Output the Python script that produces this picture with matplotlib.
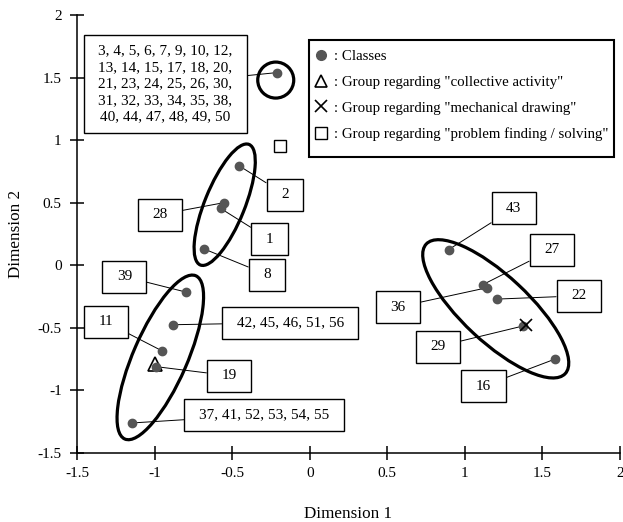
import matplotlib
matplotlib.use('Agg')
import matplotlib.pyplot as plt
from matplotlib.patches import Ellipse, Rectangle
from matplotlib.transforms import ScaledTranslation
from matplotlib.path import Path
from matplotlib.lines import Line2D

plt.rcParams['font.family'] = ['Liberation Serif', 'DejaVu Serif']
plt.rcParams['axes.unicode_minus'] = False

# classes (dots)
class_labels = [
    "3, 4, 5, 6, 7, 9, 10, 12,\n13, 14, 15, 17, 18, 20,\n21, 23, 24, 25, 26, 30,\n"
    "31, 32, 33, 34, 35, 38,\n40, 44, 47, 48, 49, 50",
    "2", "28", "1", "8", "39", "42, 45, 46, 51, 56", "11", "19",
    "37, 41, 52, 53, 54, 55", "43", "27", "36", "22", "29", "16",
]
class_x = [-0.21, -0.455, -0.555, -0.575, -0.68, -0.795, -0.88, -0.95, -0.99,
           -1.145, 0.895, 1.115, 1.14, 1.21, 1.375, 1.58]
class_y = [1.54, 0.795, 0.50, 0.455, 0.13, -0.215, -0.475, -0.685, -0.81,
           -1.26, 0.125, -0.155, -0.18, -0.27, -0.485, -0.75]

# groups
collective_xy = (-1.0, -0.79)
mechanical_xy = (1.395, -0.475)
problem_xy = (-0.19, 0.955)

# where the label boxes sit (data coords)
label_pos = [(-0.93, 1.45), (-0.16, 0.565), (-0.965, 0.405), (-0.26, 0.21),
             (-0.275, -0.075), (-1.195, -0.09), (-0.125, -0.458), (-1.315, -0.452),
             (-0.52, -0.882), (-0.295, -1.194), (1.315, 0.454), (1.56, 0.124),
             (0.568, -0.334), (1.734, -0.244), (0.826, -0.65), (1.12, -0.966)]

# cluster ellipses: centre (data), width/height in pixels, angle in degrees
ellipses = [((-0.219, 1.48), 36, 36, 0),
            ((-0.548, 0.484), 130, 40, 68),
            ((-0.963, -0.736), 178, 54, 66.5),
            ((1.199, -0.348), 190, 66, -43)]

dot_color = '#555555'


def label_box(x0, y0, width, height, mutation_size):
    padx = 0.95 * mutation_size
    pady = 0.62 * mutation_size
    x0, y0 = x0 - padx, y0 - pady
    x1, y1 = x0 + width + 2 * padx, y0 + height + 2 * pady
    return Path([(x0, y0), (x1, y0), (x1, y1), (x0, y1), (x0, y0)], closed=True)


fig = plt.figure(figsize=(6.23, 5.22), dpi=100)
ax = fig.add_axes([77 / 623, 1 - 453 / 522, 543 / 623, 438 / 522])

ax.set_xlim(-1.5, 2)
ax.set_ylim(-1.5, 2)
ticks = [-1.5, -1, -0.5, 0, 0.5, 1, 1.5, 2]
tick_text = ['-1.5', '-1', '-0.5', '0', '0.5', '1', '1.5', '2']
ax.set_xticks(ticks, tick_text)
ax.set_yticks(ticks, tick_text)
ax.tick_params(direction='inout', length=10, width=1.1, labelsize=11)
ax.tick_params(axis='x', pad=5)
ax.tick_params(axis='y', pad=6)
for s in ['top', 'right']:
    ax.spines[s].set_visible(False)
for s in ['left', 'bottom']:
    ax.spines[s].set_linewidth(1.1)

ax.set_xlabel('Dimension 1', fontsize=12.3)
ax.set_ylabel('Dimension 2', fontsize=12.3)
ax.xaxis.set_label_coords(0.5, -0.12)
ax.yaxis.set_label_coords(-0.098, 0.5)

# ellipses
for (cx, cy), w, h, ang in ellipses:
    tr = fig.dpi_scale_trans + ScaledTranslation(cx, cy, ax.transData)
    ax.add_patch(Ellipse((0, 0), w / 100, h / 100, angle=ang, transform=tr,
                         fill=False, ec='black', lw=2.3, zorder=3))

# labels with leader lines
for lab, x, y, (tx, ty) in zip(class_labels, class_x, class_y, label_pos):
    ax.annotate(lab, xy=(x, y), xytext=(tx, ty), ha='center', va='center',
                fontsize=11, linespacing=1.35, zorder=2,
                bbox=dict(boxstyle=label_box, fc='white', ec='black', lw=1.0),
                arrowprops=dict(arrowstyle='-', color='black', lw=0.7,
                                shrinkA=0, shrinkB=0))

ax.plot([collective_xy[0]], [collective_xy[1]], ls='none', marker='^', ms=10,
        mfc='white', mec='black', mew=1.2, zorder=4)
ax.plot(class_x, class_y, ls='none', marker='o', ms=6, color=dot_color, zorder=5)
ax.plot([mechanical_xy[0]], [mechanical_xy[1]], ls='none', marker='x', ms=9,
        color='black', mew=1.2, zorder=6)
ax.plot([problem_xy[0]], [problem_xy[1]], ls='none', marker='s', ms=8.5,
        mfc='white', mec='black', mew=1.0, zorder=4)

handles = [
    Line2D([], [], ls='none', marker='o', ms=7, color=dot_color),
    Line2D([], [], ls='none', marker='^', ms=9, mfc='white', mec='black', mew=1.2),
    Line2D([], [], ls='none', marker='x', ms=9, color='black', mew=1.2),
    Line2D([], [], ls='none', marker='s', ms=9, mfc='white', mec='black', mew=1.0),
]
labels = [': Classes',
          ': Group regarding "collective activity"',
          ': Group regarding "mechanical drawing"',
          ': Group regarding "problem finding / solving"']

# legend frame drawn separately so its size can match the original
ax.add_patch(Rectangle((309 / 623, 1 - 157 / 522), 305 / 623, 117 / 522,
                       transform=fig.transFigure, fill=True, fc='white',
                       ec='black', lw=1.5, zorder=6.5, clip_on=False))
leg = ax.legend(handles, labels, loc='upper left',
                bbox_to_anchor=(315 / 623, 1 - 49.5 / 522), bbox_transform=fig.transFigure,
                borderaxespad=0, borderpad=0, fontsize=10.7, handlelength=0.8,
                handletextpad=0.45, labelspacing=0.84, frameon=False)
leg.set_zorder(7)

fig.savefig('out.png', dpi=100)
